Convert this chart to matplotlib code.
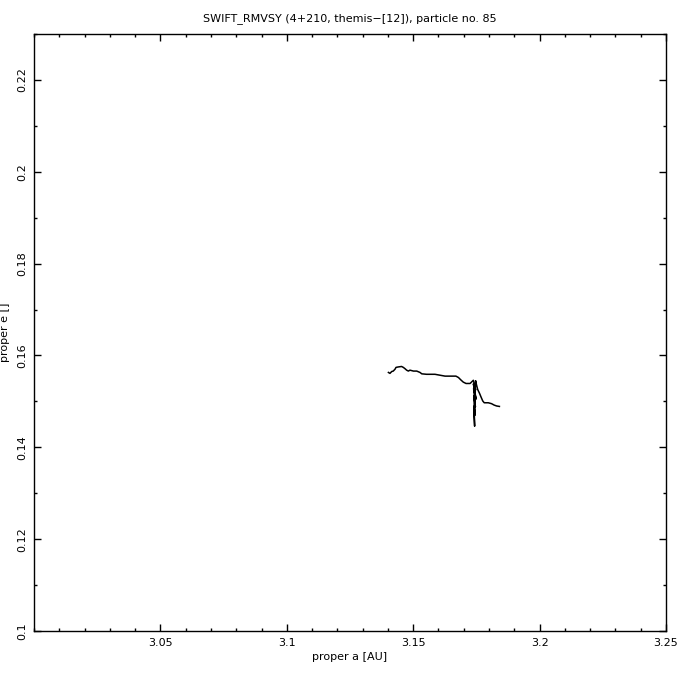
import matplotlib
matplotlib.use("Agg")
import matplotlib.pyplot as plt
from matplotlib.ticker import MultipleLocator

# proper elements of the particle
proper_a = [3.1402, 3.1408, 3.1415, 3.1421, 3.1428, 3.1432, 3.1441, 3.1454,
            3.1461, 3.1468, 3.1474, 3.1481, 3.1487, 3.1501, 3.1514, 3.1527,
            3.1534, 3.1553, 3.1586, 3.1606, 3.1626, 3.1646, 3.1669, 3.1679,
            3.1688, 3.1698, 3.1709, 3.1725, 3.1738,
            3.1747, 3.1738, 3.1749, 3.1739, 3.1746, 3.1740, 3.1745, 3.1741,
            3.1743, 3.1741, 3.1744, 3.1747,
            3.1750, 3.1755, 3.1762, 3.1768, 3.1775, 3.1781, 3.1797, 3.1810,
            3.1820, 3.1830, 3.1841]
proper_e = [0.1563, 0.1561, 0.1565, 0.1566, 0.1570, 0.1574, 0.1575, 0.1576,
            0.1574, 0.1571, 0.1568, 0.1566, 0.1568, 0.1566, 0.1566, 0.1563,
            0.1560, 0.1559, 0.1559, 0.1557, 0.1555, 0.1555, 0.1555, 0.1552,
            0.1547, 0.1542, 0.1539, 0.1539, 0.1546,
            0.1525, 0.1538, 0.1505, 0.1528, 0.1488, 0.1512, 0.1470, 0.1490,
            0.1446, 0.1468, 0.1515, 0.1545,
            0.1537, 0.1526, 0.1518, 0.1510, 0.1501, 0.1497, 0.1497, 0.1495,
            0.1492, 0.1490, 0.1489]

title = "SWIFT_RMVSY (4+210, themis\u2212[12]), particle no. 85"

plt.rcParams['font.family'] = ['DejaVu Sans']
fig = plt.figure(figsize=(6.8, 6.8), dpi=100)
ax = fig.add_axes([34 / 680, 1 - 631 / 680, 632 / 680, 597 / 680])

ax.plot(proper_a, proper_e, color='black', lw=1.1)

ax.set_xlim(3.0, 3.25)
ax.set_ylim(0.1, 0.23)
ax.xaxis.set_minor_locator(MultipleLocator(0.01))
ax.yaxis.set_minor_locator(MultipleLocator(0.01))
ax.set_xticks([3.05, 3.1, 3.15, 3.2, 3.25])
ax.set_xticklabels(['3.05', '3.1', '3.15', '3.2', '3.25'])
ax.set_yticks([0.1, 0.12, 0.14, 0.16, 0.18, 0.2, 0.22])
ax.set_yticklabels(['0.1', '0.12', '0.14', '0.16', '0.18', '0.2', '0.22'],
                   rotation=90, va='center')

ax.tick_params(which='both', direction='in', top=True, right=True,
               labelsize=8, width=1.0)
ax.tick_params(which='major', length=4.8, pad=5)
ax.tick_params(which='minor', length=2.5)
for s in ax.spines.values():
    s.set_linewidth(1.0)

ax.set_xlabel('proper a [AU]', fontsize=8, labelpad=3)
ax.set_ylabel('proper e []', fontsize=8, labelpad=5)
ax.set_title(title, fontsize=8, pad=9)

fig.savefig('out.png', dpi=100)
